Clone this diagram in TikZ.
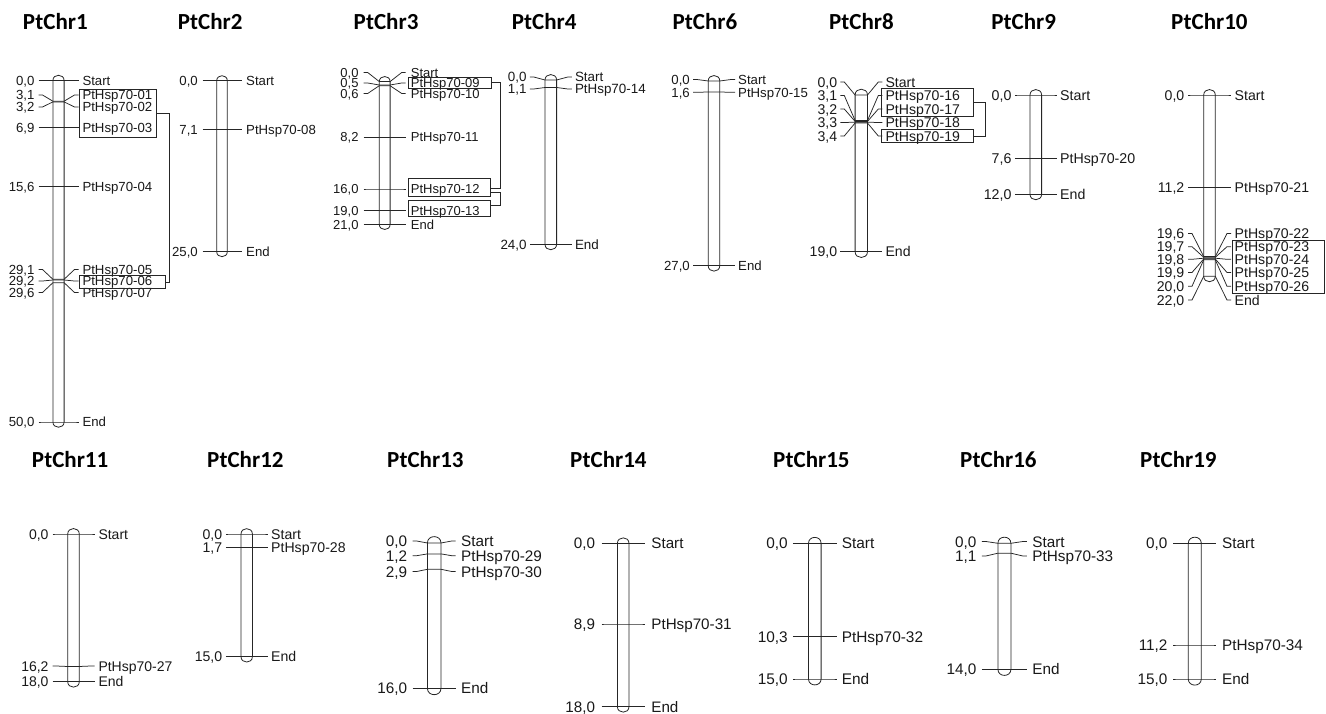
\documentclass[tikz,border=0pt]{standalone}
\usepackage{fontspec}
\setmainfont{Liberation Sans}
\newfontfamily\titlefont{Carlito}
\newcommand\chrset[5]{\def\chrCx{#1}\def\chrHw{#2}\def\chrLn{#3}\def\chrTo{#4}\def\chrFs{#5}}
\newcommand\capsule[2]{%
  \draw[chrom] ({\chrCx-\chrHw},#1) -- ({\chrCx-\chrHw},#2)
    .. controls ({\chrCx-\chrHw},{#2+1.25*\chrHw}) and ({\chrCx+\chrHw},{#2+1.25*\chrHw}) .. ({\chrCx+\chrHw},#2)
    -- ({\chrCx+\chrHw},#1)
    .. controls ({\chrCx+\chrHw},{#1-1.25*\chrHw}) and ({\chrCx-\chrHw},{#1-1.25*\chrHw}) .. ({\chrCx-\chrHw},#1) -- cycle;}
\newcommand\mk[5]{%
  \draw[mline] ({\chrCx-\chrLn},#2) -- ({\chrCx-\chrLn+4},#2) -- ({\chrCx-\chrHw},#3) -- ({\chrCx+\chrHw},#3) -- ({\chrCx+\chrLn-4},#2) -- ({\chrCx+\chrLn},#2);
  \node[lab,anchor=base east] (#1l) at ({\chrCx-\chrTo},{#2+0.36*\chrFs}) {#4};
  \node[lab,anchor=base west] (#1r) at ({\chrCx+\chrTo},{#2+0.36*\chrFs}) {#5};}
\begin{document}
\begin{tikzpicture}[x=1pt,y=-1pt,
  chrom/.style={draw=black!85, line width=0.8pt, fill=white},
  mline/.style={draw=black!85, line width=0.75pt},
  lab/.style={inner sep=0pt, font=\fontsize{\chrFs}{\chrFs}\selectfont, text=black!90},
  ttl/.style={inner sep=0pt, anchor=base west, font=\titlefont\bfseries\fontsize{23}{23}\selectfont},
  gbox/.style={draw=black!85, line width=0.8pt}]
\useasboundingbox[fill=white] (0,0) rectangle (1326,714);

% titles
\node[ttl] (t1) at (22.8,29.5) {PtChr1};
\node[ttl] (t2) at (177.6,29.5) {PtChr2};
\node[ttl] (t3) at (353.5,29.5) {PtChr3};
\node[ttl] (t4) at (511.6,29.5) {PtChr4};
\node[ttl] (t6) at (672.3,29.5) {PtChr6};
\node[ttl] (t8) at (828.8,29.5) {PtChr8};
\node[ttl] (t9) at (991.1,29.5) {PtChr9};
\node[ttl] (t10) at (1171,29.5) {PtChr10};
\node[ttl] (t11) at (31.7,467) {PtChr11};
\node[ttl] (t12) at (207,467) {PtChr12};
\node[ttl] (t13) at (387,467) {PtChr13};
\node[ttl] (t14) at (570,467) {PtChr14};
\node[ttl] (t15) at (773,467) {PtChr15};
\node[ttl] (t16) at (960,467) {PtChr16};
\node[ttl] (t19) at (1140,467) {PtChr19};

% PtChr1
\chrset{58.5}{5.6}{20}{23.8}{13.2}
\capsule{80.5}{422}
\mk{a0}{80.5}{80.5}{0,0}{Start}
\mk{a1}{95}{101.2}{3,1}{PtHsp70-01}
\mk{a2}{107}{101.9}{3,2}{PtHsp70-02}
\mk{a3}{127.5}{127.5}{6,9}{PtHsp70-03}
\mk{a4}{186.7}{186.7}{15,6}{PtHsp70-04}
\mk{a5}{269.5}{279.3}{29,1}{PtHsp70-05}
\mk{a6}{281}{280}{29,2}{PtHsp70-06}
\mk{a7}{292.5}{282.7}{29,6}{PtHsp70-07}
\mk{a8}{422}{422}{50,0}{End}
\draw[gbox] (79.3,89) rectangle (156.7,137);
\draw[gbox] (79.3,275.5) rectangle (165.5,288);
\draw[mline] (156.7,113) -- (169,113) -- (169,282) -- (165.5,282);

% PtChr2
\chrset{222}{5.3}{19.5}{24}{13.2}
\capsule{80.7}{251.7}
\mk{b0}{80.7}{80.7}{0,0}{Start}
\mk{b1}{129.3}{129.3}{7,1}{PtHsp70-08}
\mk{b2}{251.7}{251.7}{25,0}{End}

% PtChr3
\chrset{384.7}{5.4}{21}{26}{13}
\capsule{81.6}{224.4}
\mk{c0}{72.5}{81.6}{0,0}{Start}
\mk{c1}{83}{85}{0,5}{PtHsp70-09}
\mk{c2}{93.5}{85.7}{0,6}{PtHsp70-10}
\mk{c3}{137.3}{137.3}{8,2}{PtHsp70-11}
\mk{c4}{189}{189}{16,0}{PtHsp70-12}
\mk{c5}{210.7}{210.7}{19,0}{PtHsp70-13}
\mk{c6}{224.4}{224.4}{21,0}{End}
\draw[gbox] (408.3,77.3) rectangle (491.7,88);
\draw[gbox] (408.3,178.5) rectangle (490.7,196);
\draw[gbox] (408.3,200.5) rectangle (490.7,216.5);
\draw[mline] (491.7,82.5) -- (500,82.5) -- (500,188) -- (490.7,188);
\draw[mline] (490.7,192.5) -- (500.7,192.5) -- (500.7,205) -- (490.7,205);

% PtChr4
\chrset{550.8}{5.8}{21}{24}{13.4}
\capsule{80}{244.3}
\mk{d0}{77}{80}{0,0}{Start}
\mk{d1}{89}{87.5}{1,1}{PtHsp70-14}
\mk{d2}{244.3}{244.3}{24,0}{End}

% PtChr6
\chrset{714}{5.8}{21}{24}{13.2}
\capsule{81}{265.7}
\mk{e0}{79.5}{81}{0,0}{Start}
\mk{e1}{92.3}{92}{1,6}{PtHsp70-15}
\mk{e2}{265.7}{265.7}{27,0}{End}

% PtChr8
\chrset{861.3}{6.2}{21}{24}{14.1}
\capsule{95}{251.7}
\mk{f0}{82}{95}{0,0}{Start}
\mk{f1}{95.5}{120.5}{3,1}{PtHsp70-16}
\mk{f2}{109}{121.4}{3,2}{PtHsp70-17}
\mk{f3}{122.5}{122.2}{3,3}{PtHsp70-18}
\mk{f4}{136}{123}{3,4}{PtHsp70-19}
\mk{f5}{251.7}{251.7}{19,0}{End}
\draw[gbox] (881.7,88.3) rectangle (973.3,116.7);
\draw[gbox] (881.7,129.5) rectangle (973.3,142.5);
\draw[mline] (973.3,102.5) -- (985,102.5) -- (985,136) -- (973.3,136);

% PtChr9
\chrset{1035.8}{5.8}{21}{24.2}{14.2}
\capsule{95}{194.3}
\mk{g0}{95}{95}{0,0}{Start}
\mk{g1}{157.9}{157.9}{7,6}{PtHsp70-20}
\mk{g2}{194.3}{194.3}{12,0}{End}

% PtChr10
\chrset{1209.5}{5.8}{21.5}{25}{14.1}
\capsule{95}{276.3}
\mk{h0}{95}{95}{0,0}{Start}
\mk{h1}{187.3}{187.3}{11,2}{PtHsp70-21}
\mk{h2}{233.5}{256.5}{19,6}{PtHsp70-22}
\mk{h3}{246.7}{257.3}{19,7}{PtHsp70-23}
\mk{h4}{259.3}{258.2}{19,8}{PtHsp70-24}
\mk{h5}{272.5}{259}{19,9}{PtHsp70-25}
\mk{h6}{286.3}{259.8}{20,0}{PtHsp70-26}
\mk{h7}{300}{276.3}{22,0}{End}
\draw[gbox] (1232.7,240) rectangle (1324,293.3);

% PtChr11
\chrset{73.5}{5.8}{21}{24.8}{14}
\capsule{534}{681.7}
\mk{i0}{534}{534}{0,0}{Start}
\mk{i1}{666}{666.5}{16,2}{PtHsp70-27}
\mk{i2}{681.7}{681.7}{18,0}{End}

% PtChr12
\chrset{246.7}{5.7}{20.8}{24.3}{14.1}
\capsule{534}{656.7}
\mk{j0}{534}{534}{0,0}{Start}
\mk{j1}{547.5}{547.5}{1,7}{PtHsp70-28}
\mk{j2}{656.7}{656.7}{15,0}{End}

% PtChr13
\chrset{434.2}{6.8}{21.5}{26.8}{15.3}
\capsule{543}{688.3}
\mk{k0}{541}{543}{0,0}{Start}
\mk{k1}{555.7}{553.9}{1,2}{PtHsp70-29}
\mk{k2}{571.5}{569.3}{2,9}{PtHsp70-30}
\mk{k3}{688.3}{688.3}{16,0}{End}

% PtChr14
\chrset{623.2}{5.8}{21.5}{28}{15.2}
\capsule{543.3}{706.7}
\mk{l0}{543.3}{543.3}{0,0}{Start}
\mk{l1}{624}{624}{8,9}{PtHsp70-31}
\mk{l2}{706.7}{706.7}{18,0}{End}

% PtChr15
\chrset{814.8}{6.3}{22}{26.8}{15.4}
\capsule{543.3}{679}
\mk{m0}{543.3}{543.3}{0,0}{Start}
\mk{m1}{636.5}{636.5}{10,3}{PtHsp70-32}
\mk{m2}{679}{679}{15,0}{End}

% PtChr16
\chrset{1004.4}{6.5}{22.5}{27.8}{15.3}
\capsule{543.3}{669.3}
\mk{n0}{541.5}{543.3}{0,0}{Start}
\mk{n1}{556}{553.2}{1,1}{PtHsp70-33}
\mk{n2}{669.3}{669.3}{14,0}{End}

% PtChr19
\chrset{1194.8}{6.5}{21.5}{27.2}{15.3}
\capsule{543.3}{679}
\mk{o0}{543.3}{543.3}{0,0}{Start}
\mk{o1}{645}{645}{11,2}{PtHsp70-34}
\mk{o2}{679}{679}{15,0}{End}
\end{tikzpicture}
\end{document}
